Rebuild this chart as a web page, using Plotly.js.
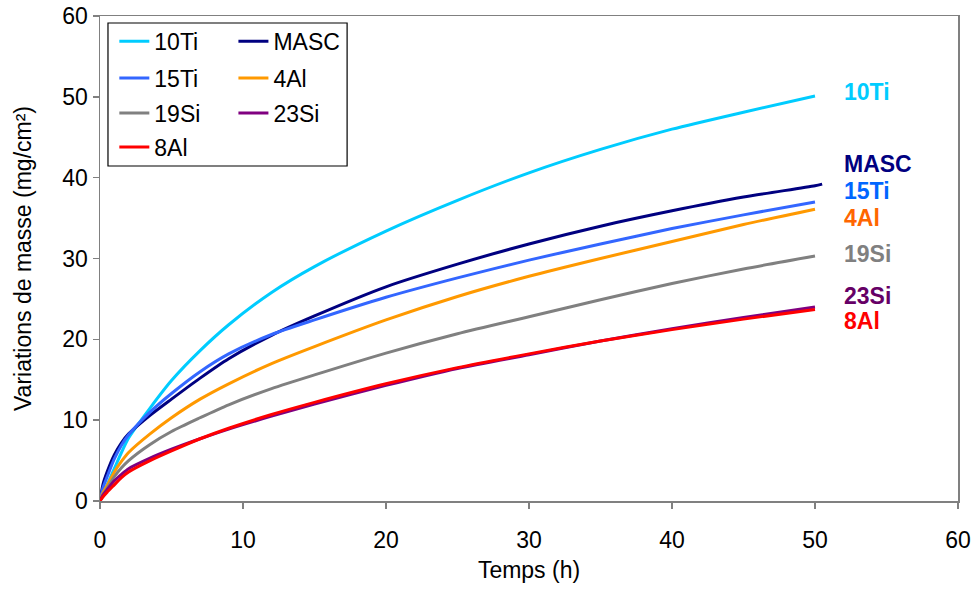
<!DOCTYPE html>
<html>
<head>
<meta charset="utf-8">
<script src="https://cdn.plot.ly/plotly-3.0.1.min.js"></script>
<style>html,body{margin:0;padding:0;background:#fff;}#chart{width:972px;height:590px;}</style>
</head>
<body>
<div id="chart"></div>
<script>
// Time (h)
const temps = [0, 0.2, 0.5, 1, 1.5, 2, 3.5, 5, 7, 9, 12, 15, 20, 25, 30, 35, 40, 45, 50];
const tempsMASC = [0, 0.2, 0.5, 1, 1.5, 2, 3.5, 5, 7, 9, 12, 15, 20, 25, 30, 35, 40, 45, 50, 50.5];
// Mass variations (mg/cm²)
const v10Ti = [0, 0.9, 2.0, 4.0, 6.0, 7.8, 11.5, 14.9, 18.6, 21.8, 25.8, 29.0, 33.4, 37.2, 40.6, 43.5, 46.0, 48.1, 50.1];
const vMASC = [0, 2.0, 3.6, 5.7, 7.2, 8.3, 10.6, 12.6, 15.2, 17.6, 20.5, 22.9, 26.5, 29.3, 31.8, 34.0, 35.9, 37.6, 39.0, 39.2];
const v15Ti = [0, 1.6, 3.0, 5.2, 6.9, 8.2, 11.0, 13.3, 16.0, 18.2, 20.6, 22.4, 25.2, 27.6, 29.8, 31.8, 33.7, 35.4, 37.0];
const v4Al  = [0, 1.0, 1.9, 3.6, 4.9, 6.0, 8.3, 10.3, 12.6, 14.5, 17.0, 19.1, 22.4, 25.3, 27.8, 30.0, 32.1, 34.2, 36.1];
const v19Si = [0, 0.8, 1.6, 3.0, 4.1, 5.0, 7.0, 8.6, 10.3, 11.9, 13.9, 15.6, 18.3, 20.7, 22.8, 24.9, 26.9, 28.7, 30.3];
const v23Si = [0, 0.7, 1.4, 2.5, 3.3, 4.0, 5.3, 6.4, 7.7, 8.9, 10.5, 12.0, 14.3, 16.4, 18.1, 19.8, 21.3, 22.7, 24.0];
const v8Al  = [0, 0.5, 1.1, 2.0, 2.9, 3.6, 5.0, 6.2, 7.7, 9.0, 10.7, 12.2, 14.5, 16.5, 18.2, 19.8, 21.2, 22.5, 23.7];

const names = ['10Ti', 'MASC', '15Ti', '4Al', '19Si', '23Si', '8Al'];
const lineColors = ['#00CCFF', '#000080', '#3366FF', '#FF9900', '#808080', '#800080', '#FF0000'];
const labelColors = ['#00CCFF', '#000080', '#0066FF', '#FF6600', '#808080', '#660066', '#FF0000'];
const labelY = [50.6, 41.7, 38.4, 35.0, 30.6, 25.3, 22.3];
const labelX = 51.9;

const xs = [temps, tempsMASC, temps, temps, temps, temps, temps];
const ys = [v10Ti, vMASC, v15Ti, v4Al, v19Si, v23Si, v8Al];
const legendIds = ['legend', 'legend2', 'legend3', 'legend4', 'legend5', 'legend6', 'legend7'];

const FONT = 'Liberation Sans, Arial, sans-serif';
const FS = 23;

const traces = names.map((n, i) => ({
  x: xs[i], y: ys[i], name: n, type: 'scatter', mode: 'lines',
  line: {color: lineColors[i], width: 3, shape: 'spline', smoothing: 0.7},
  legend: legendIds[i]
}));

// legend slots (2 columns, row-major)
const colX = [0.0167, 0.1555];
const rowY = [0.948, 0.872, 0.800, 0.730];
const layout = {
  width: 972, height: 590,
  margin: {l: 100, r: 14, t: 16, b: 89},
  paper_bgcolor: '#fff', plot_bgcolor: '#fff',
  font: {family: FONT, size: FS, color: '#000'},
  xaxis: {
    range: [0, 60], dtick: 10, tick0: 0,
    showgrid: false, zeroline: false,
    showline: true, linecolor: '#808080', linewidth: 1.5, mirror: true,
    ticks: 'outside', ticklen: 6, tickcolor: '#808080', tickwidth: 1.5,
    ticklabelstandoff: 12,
    tickfont: {family: FONT, size: FS, color: '#000'},
    title: {text: 'Temps (h)', font: {family: FONT, size: FS, color: '#000'}, standoff: 10}
  },
  yaxis: {
    range: [0, 60], dtick: 10, tick0: 0,
    showgrid: false, zeroline: false,
    showline: true, linecolor: '#808080', linewidth: 1.5, mirror: true,
    ticks: 'outside', ticklen: 6, tickcolor: '#808080', tickwidth: 1.5,
    tickfont: {family: FONT, size: FS, color: '#000'},
    title: {text: 'Variations de masse (mg/cm²)', font: {family: FONT, size: FS, color: '#000'}, standoff: 24}
  },
  shapes: [{
    type: 'rect', xref: 'paper', yref: 'paper',
    x0: 0.0093, x1: 0.288, y0: 0.6907, y1: 0.9856,
    line: {color: '#000', width: 1.2}, fillcolor: 'rgba(0,0,0,0)'
  }],
  annotations: names.map((n, i) => ({
    x: labelX, y: labelY[i], xref: 'x', yref: 'y',
    text: '<b>' + n + '</b>', showarrow: false,
    xanchor: 'left', yanchor: 'middle',
    font: {family: FONT, size: FS, color: labelColors[i]}
  })),
  showlegend: true
};
const slots = [[0,0],[1,0],[0,1],[1,1],[0,2],[1,2],[0,3]];
legendIds.forEach((id, i) => {
  layout[id] = {
    x: colX[slots[i][0]], y: rowY[slots[i][1]],
    xref: 'paper', yref: 'paper', xanchor: 'left', yanchor: 'middle',
    bgcolor: 'rgba(0,0,0,0)', borderwidth: 0,
    font: {family: FONT, size: FS, color: '#000'},
    itemwidth: 30
  };
});

Plotly.newPlot('chart', traces, layout, {staticPlot: true, displayModeBar: false});
</script>
</body>
</html>
